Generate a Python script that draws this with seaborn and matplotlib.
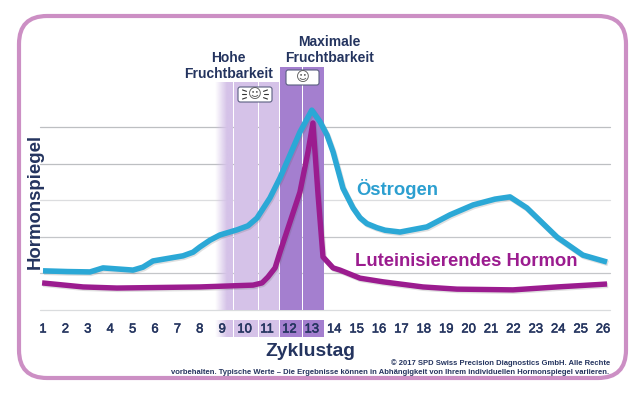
import numpy as np
import pandas as pd
import matplotlib
matplotlib.use("Agg")
import matplotlib.pyplot as plt
import matplotlib.patheffects as pe
from matplotlib.patches import FancyBboxPatch, Rectangle
from matplotlib.transforms import Affine2D
import seaborn as sns

sns.set_style("white")
plt.rcParams['font.family'] = ['Liberation Sans', 'DejaVu Sans']

days = list(range(1, 27))
grid_levels = [0, 1, 2, 3, 4, 5]

oestrogen_days = [1.0, 2.1, 3.1, 3.68, 5.02, 5.46, 5.91, 7.25, 7.7, 8.0, 8.46, 8.9, 9.66, 10.15, 10.55, 11.13, 11.58,
                  12.47, 13.0, 13.37, 13.68, 13.95, 14.39, 14.84, 15.15, 15.46, 15.9, 16.27, 16.94, 18.14, 19.17, 20.2, 21.18,
                  21.85, 22.6, 23.95, 25.1, 26.18]
oestrogen = [1.07, 1.05, 1.04, 1.15, 1.09, 1.17, 1.34, 1.48, 1.58, 1.72, 1.91, 2.05, 2.19, 2.30, 2.51, 3.06, 3.61,
             4.86, 5.46, 5.14, 4.78, 4.32, 3.33, 2.79, 2.52, 2.36, 2.25, 2.18, 2.13, 2.27, 2.60, 2.87, 3.03,
             3.09, 2.79, 1.99, 1.50, 1.31]

lh_days = [0.96, 2.79, 4.3, 8.0, 10.38, 10.78, 11.04, 11.36, 11.58, 12.47, 12.83, 13.05, 13.28, 13.5, 13.95, 14.26,
           15.15, 16.18, 17.96, 19.48, 21.98, 23.95, 26.18]
lh = [0.74, 0.63, 0.60, 0.63, 0.68, 0.74, 0.90, 1.15, 1.58, 3.22, 4.32, 5.11, 3.14, 1.45, 1.15, 1.09,
      0.87, 0.77, 0.63, 0.57, 0.55, 0.63, 0.71]

high_days = [9, 10, 11]
peak_days = [12, 13]

# pixel -> data helpers, the axes fills the whole picture
PX_X0, PX_PER_DAY = 43, 22.4
PX_Y0, PX_PER_LEVEL = 310, 36.6
def dx(px): return 1 + (px - PX_X0) / PX_PER_DAY
def dy(py): return (PX_Y0 - py) / PX_PER_LEVEL

navy = '#24345F'
blue = '#2BA8D6'
magenta = '#9B1C8F'
fig = plt.figure(figsize=(6.4, 3.94), dpi=100)
ax = fig.add_axes([0, 0, 1, 1])
ax.axis('off')

# rounded frame, in pixels
frame = FancyBboxPatch((19, 16), 607, 362, boxstyle="round,pad=0,rounding_size=28",
                       fc='white', ec='#CC8FC4', lw=3, zorder=0,
                       transform=Affine2D().scale(1, -1).translate(0, 394))
ax.add_patch(frame)

# grid lines
grid_cols = ['#DADCDE', '#C4C6C9', '#C4C6C9', '#DCDDDF', '#BDBFC2', '#BDBFC2']
for lv, c in zip(grid_levels, grid_cols):
    ax.plot([dx(40), dx(610)], [lv, lv], color=c, lw=0.9, zorder=1)

# fertility bands
band_edges = {9: (215, 233), 10: (234, 258), 11: (259, 279), 12: (280, 302), 13: (303, 324)}
for d in high_days + peak_days:
    x0, x1 = band_edges[d]
    top = 82 if d in high_days else 67
    col = '#D5C2E8' if d in high_days else '#A47FCF'
    if d == 9:
        grad = np.zeros((2, 32, 4))
        grad[..., :3] = matplotlib.colors.to_rgb(col)
        grad[..., 3] = np.clip(np.linspace(0, 1.5, 32), 0, 1)
        for y0, y1 in [(top, 310), (320, 337)]:
            ax.imshow(grad, extent=(dx(x0), dx(x1), dy(y1), dy(y0)), aspect='auto', zorder=2, interpolation='bilinear')
    else:
        ax.add_patch(Rectangle((dx(x0), 0), dx(x1) - dx(x0), dy(top), fc=col, ec='none', zorder=2))
        ax.add_patch(Rectangle((dx(x0), dy(337)), dx(x1) - dx(x0), dy(320) - dy(337), fc=col, ec='none', zorder=2))

# curves
shadow = [pe.SimpleLineShadow(offset=(0.8, -1), alpha=0.18, shadow_color='#555555'), pe.Normal()]
df_o = pd.DataFrame({'day': oestrogen_days, 'level': oestrogen})
df_l = pd.DataFrame({'day': lh_days, 'level': lh})
sns.lineplot(data=df_l, x='day', y='level', ax=ax, color=magenta, lw=3.9, estimator=None, zorder=4)
sns.lineplot(data=df_o, x='day', y='level', ax=ax, color=blue, lw=4.0, estimator=None, zorder=5)
for ln in ax.get_lines()[-2:]:
    ln.set_path_effects(shadow)
    ln.set_solid_joinstyle('round')
    ln.set_solid_capstyle('butt')
ax.set_xlabel('')
ax.set_ylabel('')
ax.set_xlim(dx(0), dx(640))
ax.set_ylim(dy(394), dy(0))
ax.axis('off')

# day labels
for d in days:
    ax.text(d, dy(329.5), str(d), ha='center', va='center', fontsize=9.4, color=navy, zorder=6,
            path_effects=[pe.withStroke(linewidth=0.35, foreground=navy)])

ax.text(dx(228.5), dy(66), 'Hohe\nFruchtbarkeit', ha='center', va='center', fontsize=10, fontweight='bold', color=navy, linespacing=1.25)
ax.text(dx(329.5), dy(50), 'Maximale\nFruchtbarkeit', ha='center', va='center', fontsize=10, fontweight='bold', color=navy, linespacing=1.25)

# badges
ax.add_patch(FancyBboxPatch((dx(238), dy(102)), dx(272) - dx(238), dy(87) - dy(102),
                            boxstyle="round,pad=0,rounding_size=0.1", fc='white', ec='#5A5F80', lw=0.8, zorder=6, mutation_aspect=0.6))
ax.add_patch(FancyBboxPatch((dx(286), dy(85)), dx(319) - dx(286), dy(70) - dy(85),
                            boxstyle="round,pad=0,rounding_size=0.1", fc='white', ec='#5A5F80', lw=0.8, zorder=6, mutation_aspect=0.6))
ax.text(dx(255), dy(94.5), '☺', ha='center', va='center', fontsize=9.5, color='#555555', zorder=7, family='DejaVu Sans')
ax.text(dx(302.5), dy(77.5), '☺', ha='center', va='center', fontsize=9.5, color='#555555', zorder=7, family='DejaVu Sans')
# little rays round the sun badge
for side in (-1, 1):
    for off in (-3.5, 0, 3.5):
        ax.plot([dx(255 + side * 8.5), dx(255 + side * 12.5)],
                [dy(94.5 + off * 0.9), dy(94.5 + off * 1.3)], color='#333333', lw=0.8, zorder=7)

ax.text(dx(35.5), dy(201.5), 'Hormonspiegel', rotation=90, ha='center', va='center', fontsize=13.4, fontweight='bold', color=navy)
ax.text(dx(310.5), dy(351), 'Zyklustag', ha='center', va='center', fontsize=13.9, fontweight='bold', color=navy)
ax.text(dx(397.5), dy(189), 'Östrogen', ha='center', va='center', fontsize=13.3, fontweight='bold', color='#2C9FD0', zorder=6)
ax.text(dx(466), dy(262), 'Luteinisierendes Hormon', ha='center', va='center', fontsize=13.3, fontweight='bold', color=magenta, zorder=6)

ax.text(dx(610), dy(363), '© 2017 SPD Swiss Precision Diagnostics GmbH. Alle Rechte', ha='right', va='center', fontsize=5.5, fontweight='bold', color=navy)
ax.text(dx(609), dy(372.5), 'vorbehalten. Typische Werte – Die Ergebnisse können in Abhängigkeit von Ihrem individuellen Hormonspiegel variieren.', ha='right', va='center', fontsize=5.5, fontweight='bold', color=navy)

fig.savefig('out.png', dpi=100, facecolor='white')
